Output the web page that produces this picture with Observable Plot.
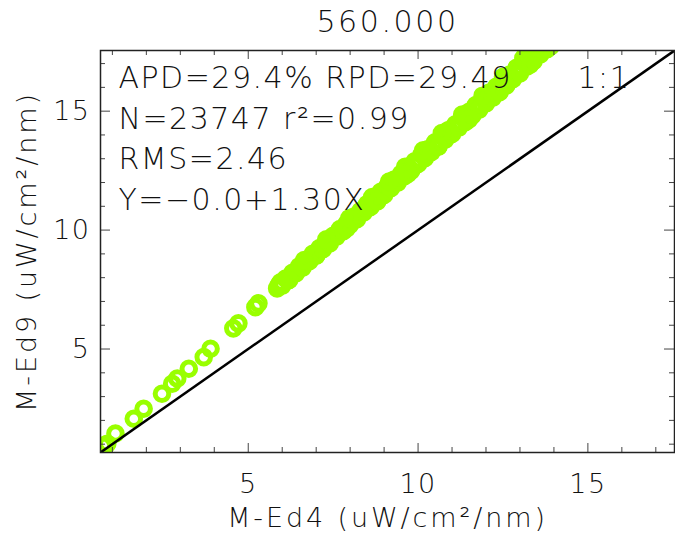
<!DOCTYPE html>
<html><head><meta charset="utf-8">
<script src="https://cdn.jsdelivr.net/npm/d3@7"></script>
<script src="https://cdn.jsdelivr.net/npm/@observablehq/plot@0.6"></script>
<style>body{margin:0;background:#fff} svg{display:block}</style>
</head><body><div id="chart"></div>
<script>
const title = "560.000";
const xLabel = "M-Ed4 (uW/cm²/nm)";
const yLabel = "M-Ed9 (uW/cm²/nm)";
const statsLines = ["APD=29.4% RPD=29.49", "N=23747 r²=0.99", "RMS=2.46", "Y=−0.0+1.30X"];
const oneToOneLabel = "1:1";
const axisDomain = [0.65, 17.55];
const majorTicks = [5, 10, 15];
const minorTicks = [1, 2, 3, 4, 6, 7, 8, 9, 11, 12, 13, 14, 16, 17];

// sparse low-end points
const sparseX = [0.72, 0.85, 1.09, 1.63, 1.92, 2.46, 2.76, 2.91, 3.25, 3.69, 3.89, 4.56, 4.71, 5.21, 5.30];
const sparseY = [0.93, 1.02, 1.45, 2.07, 2.49, 3.12, 3.54, 3.76, 4.17, 4.66, 5.01, 5.87, 6.08, 6.76, 6.92];
// dense band (centre)
const bandX = [5.85,6.0,6.15,6.3,6.45,6.6,6.75,6.9,7.05,7.2,7.35,7.5,7.65,7.8,7.95,8.1,8.25,8.4,8.55,8.7,8.85,9.0,9.15,9.3,9.45,9.6,9.75,9.9,10.05,10.2,10.35,10.5,10.65,10.8,10.95,11.1,11.25,11.4,11.55,11.7,11.85,12.0,12.15,12.3,12.45,12.6,12.75,12.9,13.05,13.2,13.35,13.5,13.65,13.8];
const bandY = [7.55,7.76,7.92,8.15,8.31,8.53,8.70,8.91,9.07,9.30,9.47,9.70,9.86,10.08,10.25,10.47,10.63,10.86,11.02,11.24,11.41,11.63,11.79,12.02,12.18,12.40,12.57,12.79,12.95,13.18,13.34,13.57,13.73,13.95,14.12,14.34,14.50,14.73,14.89,15.11,15.28,15.50,15.66,15.89,16.05,16.27,16.44,16.66,16.82,17.05,17.21,17.44,17.60,17.82];
// band, slightly above centre
const bandAX = [5.9,6.1,6.3,6.5,6.7,6.9,7.1,7.3,7.5,7.7,7.9,8.1,8.3,8.5,8.7,8.9,9.1,9.3,9.5,9.7,9.9,10.1,10.3,10.5,10.7,10.9,11.1,11.3,11.5,11.7,11.9,12.1,12.3,12.5,12.7,12.9,13.1,13.3,13.5,13.7];
const bandAY = [7.69,7.96,8.20,8.48,8.72,9.00,9.24,9.52,9.76,10.04,10.28,10.56,10.80,11.09,11.33,11.61,11.85,12.13,12.37,12.65,12.89,13.17,13.41,13.69,13.93,14.21,14.45,14.73,14.97,15.26,15.50,15.78,16.02,16.30,16.54,16.82,17.06,17.34,17.58,17.86];
// band, slightly below centre
const bandBX = [6.0,6.2,6.4,6.6,6.8,7.0,7.2,7.4,7.6,7.8,8.0,8.2,8.4,8.6,8.8,9.0,9.2,9.4,9.6,9.8,10.0,10.2,10.4,10.6,10.8,11.0,11.2,11.4,11.6,11.8,12.0,12.2,12.4,12.6,12.8,13.0,13.2,13.4,13.6,13.8];
const bandBY = [7.66,7.91,8.18,8.42,8.69,8.93,9.20,9.44,9.72,9.95,10.23,10.46,10.74,10.97,11.25,11.48,11.76,11.99,12.27,12.50,12.78,13.02,13.29,13.53,13.80,14.04,14.31,14.55,14.82,15.06,15.33,15.57,15.84,16.08,16.36,16.59,16.87,17.10,17.38,17.61];
// band upper edge
const upperX = [5.95,6.65,7.3,7.98,8.65,9.15,9.62,10.15,10.7,11.3,11.9,12.5,13.1,13.5];
const upperY = [7.80,8.74,9.61,10.50,11.39,12.04,12.66,13.35,14.08,14.86,15.65,16.44,17.23,17.76];
// band lower edge
const lowerX = [6.2,7.0,7.9,8.8,9.7,10.6,11.5,12.4,13.3,13.9];
const lowerY = [7.90,8.92,10.07,11.21,12.36,13.51,14.65,15.80,16.95,17.72];

const W = 675, H = 539, mL = 100, mR = 1, mT = 50, mB = 87;
const iw = W - mL - mR, ih = H - mT - mB;
const toPts = (xs, ys) => xs.map((x, i) => ({x, y: ys[i]}));
const points = [
  ...toPts(sparseX, sparseY), ...toPts(bandX, bandY), ...toPts(bandAX, bandAY),
  ...toPts(bandBX, bandBY), ...toPts(upperX, upperY), ...toPts(lowerX, lowerY)
];
const green = "#99ff00";
const font = "DejaVu Sans, sans-serif";
const ink = "#111";
const tickCol = "#444";
const txt = (extra) => ({fill: ink, fontWeight: 200, lineAnchor: "middle", ...extra});

// letter spacing per text mark, in mark order
const spacing = [1.5, 1.5, 2.9, 2.9, 2.6, 1.5, 1.5, 1.5, 1.5, 1.5];

const chart = Plot.plot({
  width: W, height: H,
  marginLeft: mL, marginRight: mR, marginTop: mT, marginBottom: mB,
  style: {fontFamily: font, background: "#fff"},
  x: {domain: axisDomain, axis: null},
  y: {domain: axisDomain, axis: null},
  marks: [
    Plot.dot(points, {x: "x", y: "y", r: 6.8, stroke: green, strokeWidth: 5, fill: "none", clip: true}),
    Plot.link([axisDomain], {x1: d => d[0], y1: d => d[0], x2: d => d[1], y2: d => d[1], stroke: "#000", strokeWidth: 2.5, clip: true}),
    // ticks bottom/top
    Plot.tickX(minorTicks, {x: d => d, insetTop: ih - 5, stroke: tickCol}),
    Plot.tickX(majorTicks, {x: d => d, insetTop: ih - 9, stroke: tickCol}),
    Plot.tickX(minorTicks, {x: d => d, insetBottom: ih - 5, stroke: tickCol}),
    Plot.tickX(majorTicks, {x: d => d, insetBottom: ih - 9, stroke: tickCol}),
    // ticks left/right
    Plot.tickY(minorTicks, {y: d => d, insetRight: iw - 5, stroke: tickCol}),
    Plot.tickY(majorTicks, {y: d => d, insetRight: iw - 10, stroke: tickCol}),
    Plot.tickY(minorTicks, {y: d => d, insetLeft: iw - 5, stroke: tickCol}),
    Plot.tickY(majorTicks, {y: d => d, insetLeft: iw - 10, stroke: tickCol}),
    Plot.frame({stroke: "#222", strokeWidth: 1.5}),
    // tick labels
    Plot.text(majorTicks, txt({x: d => d, frameAnchor: "bottom", dy: 32, textAnchor: "middle", text: d => String(d), fontSize: 27})),
    Plot.text(majorTicks, txt({y: d => d, frameAnchor: "left", dx: -10, textAnchor: "end", text: d => String(d), fontSize: 27})),
    // axis labels
    Plot.text([xLabel], txt({frameAnchor: "bottom", dy: 66, textAnchor: "middle", text: d => d, fontSize: 27})),
    Plot.text([yLabel], txt({frameAnchor: "left", dx: -73, rotate: -90, textAnchor: "middle", text: d => d, fontSize: 27})),
    // title
    Plot.text([title], txt({frameAnchor: "top", dy: -28, textAnchor: "middle", text: d => d, fontSize: 30})),
    // stats
    ...statsLines.map((s, i) => Plot.text([s], txt({frameAnchor: "top-left", dx: 18, dy: 28 + 40.5 * i, text: d => d, fontSize: 30, textAnchor: "start"}))),
    Plot.text([oneToOneLabel], txt({frameAnchor: "top-left", dx: 477, dy: 28, text: d => d, fontSize: 30, textAnchor: "start"}))
  ]
});
const textGroups = chart.querySelectorAll('g[aria-label="text"]');
textGroups.forEach((g, i) => { if (spacing[i] != null) g.setAttribute("letter-spacing", spacing[i]); });
document.getElementById("chart").append(chart);
</script>
</body></html>
